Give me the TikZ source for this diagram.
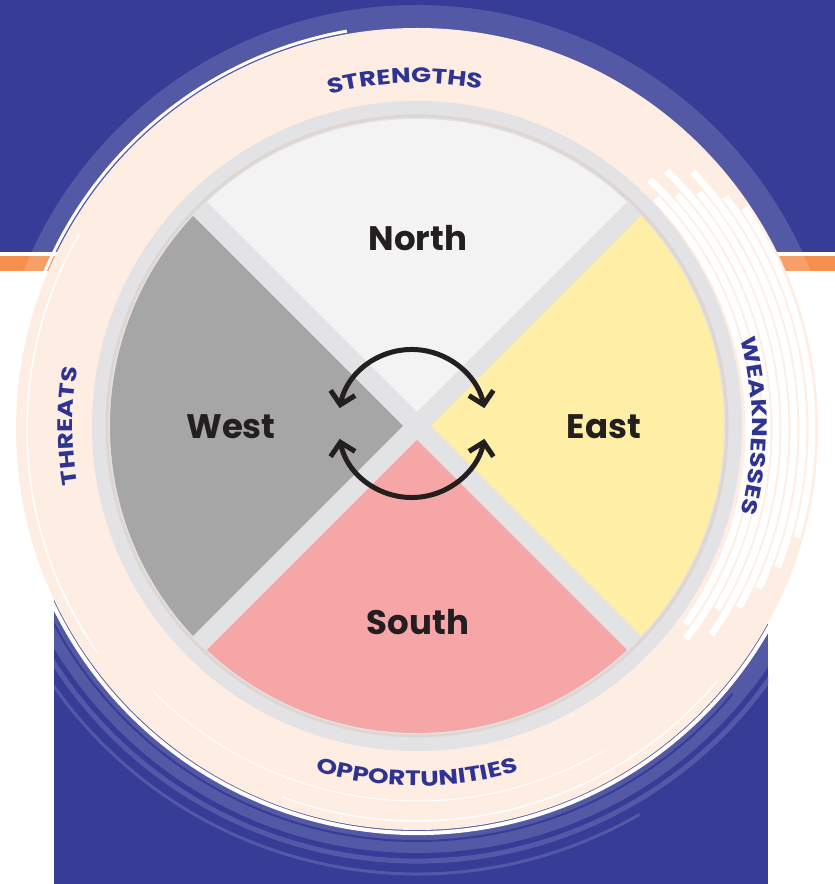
\documentclass[tikz,border=0pt]{standalone}
\usepackage{fontspec}
\setmainfont{Poppins}
\newfontfamily\ringfont{Poppins}[FakeStretch=1.25]
\usetikzlibrary{arrows.meta,decorations.text}

\definecolor{wheelblue}{HTML}{373C96}
\definecolor{halo}{HTML}{5458A8}
\definecolor{stripe}{HTML}{F58F4E}
\definecolor{peach}{HTML}{FDEDE3}
\definecolor{rimgray}{HTML}{E3E2E4}
\definecolor{rimline}{HTML}{DDD6D3}
\definecolor{northfill}{HTML}{F3F3F3}
\definecolor{westfill}{HTML}{A6A6A6}
\definecolor{eastfill}{HTML}{FFEFA6}
\definecolor{southfill}{HTML}{F6A6A7}
\definecolor{ink}{HTML}{231F20}
\definecolor{ringink}{HTML}{2F3493}

\begin{document}
\begin{tikzpicture}[x=1pt,y=1pt,
    sectorlabel/.style={font=\bfseries\fontsize{34}{40}\selectfont, text=ink},
    ringtext/.style={decorate, decoration={text along path, text align=center,
        text color=ringink, text={|\ringfont\bfseries\fontsize{21}{25}\selectfont|#1}}},
    cyclearrow/.style={draw=ink, line width=5pt,
        {Straight Barb[length=12pt,width=25pt]}-{Straight Barb[length=12pt,width=25pt]}}]
  \useasboundingbox (0,0) rectangle (835,884);
  % background bands
  \fill[wheelblue] (0,632) rectangle (835,884);
  \fill[stripe] (0,613) rectangle (835,628);
  \fill[wheelblue] (54,0) rectangle (768,324);
  \coordinate (c) at (417,455);
  \coordinate (w) at (417,458);
  % brushed halo, seen only over the bands
  \begin{scope}
    \clip (0,613) rectangle (835,884) (54,0) rectangle (768,324);
    \fill[white, opacity=0.15] (c) circle[radius=424];
    \draw[halo, line width=5pt] ([shift={(200:432)}]c) arc[start angle=200, end angle=330, radius=432];
    \draw[halo, line width=3pt] ([shift={(215:445)}]c) arc[start angle=215, end angle=300, radius=445];
    \draw[halo, line width=2pt] ([shift={(150:418)}]c) arc[start angle=150, end angle=40, radius=418];
    \draw[wheelblue, line width=2pt] ([shift={(205:412)}]c) arc[start angle=205, end angle=320, radius=412];
    \draw[white, line width=4pt] ([shift={(205:404)}]c) arc[start angle=205, end angle=335, radius=404];
    \draw[white, line width=3pt] ([shift={(160:404)}]c) arc[start angle=160, end angle=100, radius=404];
  \end{scope}
  % peach ring, washed out to the right
  \fill[peach] (c) circle[radius=401];
  \foreach \r/\s/\e in {332/44/-36, 341/47/-38, 350/42/-31, 359/46/-35, 368/40/-29, 377/43/-25, 386/37/-21, 395/34/-16}
    \draw[white, line width=7pt] ([shift={(\s:\r)}]c) arc[start angle=\s, end angle=\e, radius=\r];
  \draw[white, line width=1.5pt] ([shift={(150:390)}]c) arc[start angle=150, end angle=215, radius=390];
  \draw[white, line width=1pt] ([shift={(225:372)}]c) arc[start angle=225, end angle=300, radius=372];
  \draw[white, line width=1.5pt] ([shift={(250:392)}]c) arc[start angle=250, end angle=320, radius=392];
  % wheel
  \fill[rimgray] (w) circle[radius=325];
  \draw[rimline, line width=3pt] (w) circle[radius=310];
  \begin{scope}
    \clip (w) circle[radius=307];
    \foreach \ang/\col in {90/northfill,180/westfill,270/southfill,0/eastfill}
      \fill[\col] ([shift={(\ang:14)}]w) -- +(\ang-45:600) -- +(\ang+45:600) -- cycle;
  \end{scope}
  \node[sectorlabel] (north) at (418,646) {North};
  \node[sectorlabel] (west) at (231,457) {West};
  \node[sectorlabel] (east) at (604,457) {East};
  \node[sectorlabel] (south) at (418,262) {South};
  % ring labels
  \path[ringtext=STRENGTHS] ([shift={(125:343)}]w) arc[start angle=125, end angle=59, radius=343];
  \path[ringtext=THREATS] ([shift={(210:344)}]w) arc[start angle=210, end angle=150, radius=344];
  \path[ringtext=WEAKNESSES] ([shift={(35:335)}]w) arc[start angle=35, end angle=-35, radius=335];
  \path[ringtext=OPPORTUNITIES] ([shift={(230:360)}]w) arc[start angle=230, end angle=310, radius=360];
  % cycle arrows
  \coordinate (a) at (412,460.5);
  \draw[cyclearrow] ([shift={(168:74)}]a) arc[start angle=168, end angle=12, radius=74];
  \draw[cyclearrow] ([shift={(192:74)}]a) arc[start angle=192, end angle=348, radius=74];
\end{tikzpicture}
\end{document}
